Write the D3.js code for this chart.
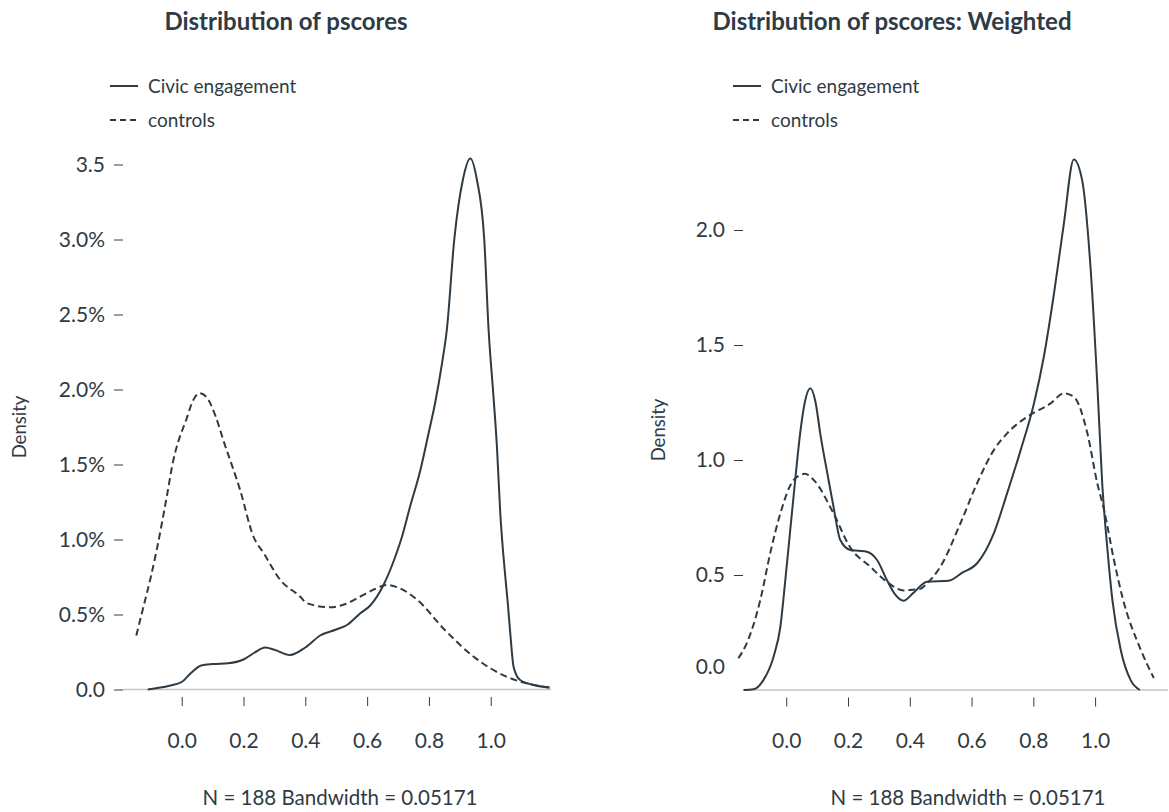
<!DOCTYPE html>
<html lang="en">
<head>
    <meta charset="UTF-8">
    <title>Distribution of pscores</title>
    <script src="https://cdn.jsdelivr.net/npm/d3@7"></script>
    <style>
        body { margin: 0; background: #fff; }
        text { font-family: Lato, "Open Sans", sans-serif; fill: #2f3b44; }
    </style>
</head>
<body>
    <svg width="1169" height="812" id="mainsvg"></svg>
    <script>
        // density curves: [x, density]
        const rawCivic = [[-0.11,0],[-0.04,0.025],[0.0,0.05],[0.03,0.11],[0.063,0.16],[0.1,0.17],[0.15,0.175],
            [0.2,0.2],[0.235,0.245],[0.27,0.28],[0.3,0.265],[0.35,0.23],[0.4,0.28],[0.448,0.36],[0.5,0.4],
            [0.535,0.43],[0.578,0.508],[0.61,0.56],[0.653,0.697],[0.691,0.885],[0.713,1.02],[0.739,1.22],
            [0.772,1.46],[0.799,1.71],[0.82,1.91],[0.842,2.17],[0.858,2.4],[0.882,3.0],[0.91,3.4],[0.934,3.54],
            [0.955,3.4],[0.979,3.0],[0.993,2.4],[1.009,1.95],[1.02,1.62],[1.031,1.17],[1.045,0.8],[1.055,0.58],
            [1.063,0.38],[1.074,0.15],[1.095,0.063],[1.14,0.03],[1.19,0.012]];
        const rawControls = [[-0.147,0.36],[-0.124,0.55],[-0.1,0.75],[-0.081,0.93],[-0.048,1.29],[-0.027,1.53],
            [-0.01,1.66],[0.015,1.8],[0.035,1.92],[0.058,1.975],[0.08,1.95],[0.11,1.82],[0.135,1.66],[0.189,1.33],
            [0.232,1.02],[0.265,0.91],[0.319,0.73],[0.383,0.62],[0.405,0.575],[0.48,0.548],[0.53,0.57],[0.578,0.62],
            [0.625,0.67],[0.664,0.697],[0.7,0.68],[0.761,0.6],[0.85,0.4],[0.944,0.22],[1.0,0.14],[1.052,0.085],
            [1.1,0.05],[1.14,0.03],[1.19,0.015]];
        const wCivic = [[-0.138,0],[-0.106,0.003],[-0.074,0.043],[-0.041,0.145],[-0.019,0.275],[-0.003,0.478],
            [0.013,0.696],[0.029,0.913],[0.045,1.116],[0.06,1.25],[0.078,1.312],[0.095,1.25],[0.11,1.116],
            [0.137,0.913],[0.153,0.797],[0.175,0.652],[0.207,0.609],[0.235,0.605],[0.261,0.601],[0.294,0.565],
            [0.326,0.478],[0.35,0.42],[0.38,0.388],[0.41,0.42],[0.456,0.471],[0.526,0.475],[0.57,0.51],
            [0.618,0.551],[0.672,0.681],[0.715,0.855],[0.759,1.043],[0.802,1.246],[0.834,1.449],[0.867,1.725],
            [0.899,2.029],[0.931,2.307],[0.958,2.217],[0.985,1.84],[1.007,1.333],[1.023,0.899],[1.04,0.609],
            [1.056,0.391],[1.083,0.174],[1.115,0.043],[1.145,0]];
        const wControls = [[-0.155,0.138],[-0.128,0.203],[-0.084,0.391],[-0.052,0.594],[-0.019,0.768],
            [0.024,0.913],[0.06,0.94],[0.089,0.913],[0.153,0.768],[0.207,0.62],[0.272,0.536],[0.326,0.47],
            [0.38,0.433],[0.402,0.435],[0.434,0.44],[0.456,0.464],[0.499,0.536],[0.564,0.725],[0.618,0.899],
            [0.672,1.043],[0.715,1.116],[0.78,1.188],[0.856,1.246],[0.899,1.29],[0.931,1.275],[0.975,1.116],
            [1.007,0.899],[1.029,0.783],[1.061,0.565],[1.088,0.406],[1.148,0.174],[1.19,0.052]];

        const xTicks = [0, 0.2, 0.4, 0.6, 0.8, 1.0];
        const xTickLabels = ['0.0', '0.2', '0.4', '0.6', '0.8', '1.0'];
        const yTicksLeft = [0, 0.5, 1.0, 1.5, 2.0, 2.5, 3.0, 3.5];
        const yLabelsLeft = ['0.0', '0.5%', '1.0%', '1.5%', '2.0%', '2.5%', '3.0%', '3.5'];
        const yTicksRight = [0, 0.5, 1.0, 1.5, 2.0];
        const yLabelsRight = ['0.0', '0.5', '1.0', '1.5', '2.0'];
        const seriesNames = ['Civic engagement', 'controls'];
        const note = 'N = 188 Bandwidth = 0.05171';

        const ink = '#2f3b44';
        const svg = d3.select('#mainsvg');

        const panels = [
            { title: 'Distribution of pscores', titleX: 286, xDom: [-0.19, 1.195], xRange: [123, 551],
              yDom: [0, 3.5], yRange: [689.5, 164.5], yTicks: yTicksLeft, yLabels: yLabelsLeft,
              series: [rawCivic, rawControls], legX: 110, noteX: 340, densX: 20 },
            { title: 'Distribution of pscores: Weighted', titleX: 892, xDom: [-0.14, 1.236], xRange: [743, 1168],
              yDom: [0, 2], yRange: [690, 230], yTicks: yTicksRight, yLabels: yLabelsRight,
              series: [wCivic, wControls], legX: 733, noteX: 968, densX: 659, shiftZero: true }
        ];

        panels.forEach(p => {
            const g = svg.append('g');
            const x = d3.scaleLinear().domain(p.xDom).range(p.xRange);
            const y = d3.scaleLinear().domain(p.yDom).range(p.yRange);

            g.append('text')
                .attr('x', p.titleX).attr('y', 30)
                .attr('text-anchor', 'middle')
                .attr('font-weight', 'bold')
                .attr('font-size', 24)
                .text(p.title);

            // legend
            seriesNames.forEach((name, i) => {
                const ly = 86 + i * 34;
                g.append('line')
                    .attr('x1', p.legX).attr('x2', p.legX + 28)
                    .attr('y1', ly).attr('y2', ly)
                    .attr('stroke', ink).attr('stroke-width', 2)
                    .attr('stroke-dasharray', i === 1 ? '6,4' : null);
                g.append('text')
                    .attr('x', p.legX + 38).attr('y', ly)
                    .attr('dy', '0.35em')
                    .attr('font-size', 19)
                    .text(name);
            });

            // baseline
            g.append('line')
                .attr('x1', p.xRange[0]).attr('x2', p.xRange[1])
                .attr('y1', y(0)).attr('y2', y(0))
                .attr('stroke', '#c4c4c4').attr('stroke-width', 1.5);

            // y axis
            const yAxis = g.append('g')
                .attr('transform', `translate(${p.xRange[0]},0)`)
                .call(d3.axisLeft(y).tickValues(p.yTicks)
                    .tickFormat((d, i) => p.yLabels[i]).tickSize(9).tickPadding(9));
            yAxis.select('.domain').remove();
            yAxis.selectAll('.tick line').attr('stroke', ink).attr('stroke-width', 1);
            yAxis.selectAll('.tick text').attr('font-size', 21).attr('fill', ink)
                .style('font-family', 'Lato, sans-serif');
            if (p.shiftZero) {
                const zero = yAxis.selectAll('.tick').filter(d => d === 0);
                zero.select('line').remove();
                zero.select('text').attr('y', -23);
            }

            // x axis
            const xAxis = g.append('g')
                .attr('transform', `translate(0,${y(0) + 7.5})`)
                .call(d3.axisBottom(x).tickValues(xTicks)
                    .tickFormat((d, i) => xTickLabels[i]).tickSize(9).tickPadding(27));
            xAxis.select('.domain').remove();
            xAxis.selectAll('.tick line').attr('stroke', ink).attr('stroke-width', 1);
            xAxis.selectAll('.tick text').attr('font-size', 21).attr('fill', ink)
                .style('font-family', 'Lato, sans-serif');

            g.append('text')
                .attr('transform', `translate(${p.densX},${(p.yRange[0] + p.yRange[1]) / 2 + (p.shiftZero ? -30 : 0)}) rotate(-90)`)
                .attr('text-anchor', 'middle')
                .attr('dy', '0.35em')
                .attr('font-size', 18.5)
                .text('Density');

            g.append('text')
                .attr('x', p.noteX).attr('y', 798)
                .attr('dy', '0.35em')
                .attr('text-anchor', 'middle')
                .attr('font-size', 20.5)
                .text(note);

            const line = d3.line().x(d => x(d[0])).y(d => y(d[1])).curve(d3.curveMonotoneX);
            p.series.forEach((s, i) => {
                g.append('path')
                    .datum(s)
                    .attr('d', line)
                    .attr('fill', 'none')
                    .attr('stroke', ink)
                    .attr('stroke-width', 2)
                    .attr('stroke-dasharray', i === 1 ? '7,4' : null);
            });
        });
    </script>
</body>
</html>
